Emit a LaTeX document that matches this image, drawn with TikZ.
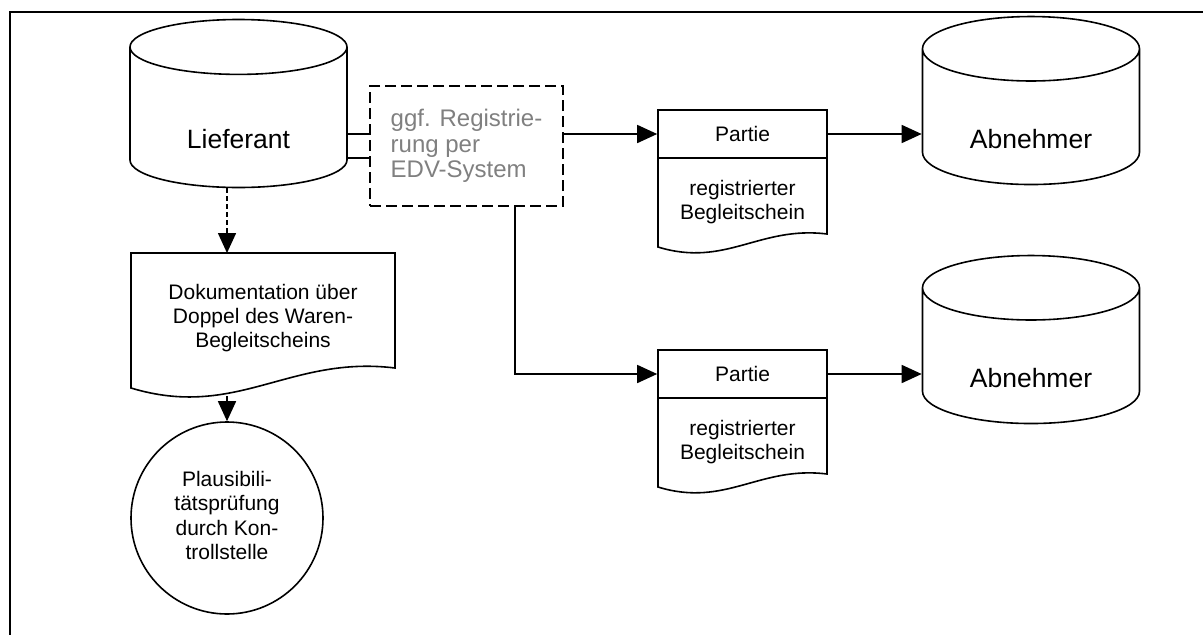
\documentclass[tikz,border=0pt]{standalone}
\usepackage{fontspec}
\setmainfont{Liberation Sans}
\usetikzlibrary{shapes.geometric,arrows.meta,calc}
\tikzset{
  tank/.style={cylinder, shape border rotate=90, aspect=0.5, draw, minimum width=217pt, minimum height=168pt, text height=61pt, text depth=6pt, font=\fontsize{26.5}{30}\selectfont},
  head/.style={draw, minimum width=169pt, minimum height=48pt, font=\fontsize{21}{24.3}\selectfont},
  paper/.style={inner sep=0pt, outer sep=0pt, align=center, font=\fontsize{21}{24.3}\selectfont},
  tip/.style={-{Triangle[length=20pt,width=18pt]}}
}
\begin{document}
\begin{tikzpicture}[x=1pt, y=-1pt, line width=1.6pt]
\useasboundingbox (0,0) rectangle (1203,635);
\draw[](1203,12) -- (10,12) -- (10,635);
% stores
\node[tank] (lief) at (238.5,121){Lieferant};
\node[tank] (abnA) at (1031,121){Abnehmer};
\node[tank] (abnB) at (1031,360){Abnehmer};
% optional registration
\node[draw, dash pattern=on 11pt off 5pt, minimum width=193pt, minimum height=120pt, align=left, text=gray, font=\fontsize{24}{25.5}\selectfont] (edv) at (466.5,146){ggf. Registrie-\\rung per\\EDV-System};
% documents
\node[head] (partA) at (742.5,134){Partie};
\node[paper, minimum width=169pt, minimum height=88pt] (regA) at (742.5,202){registrierter\\Begleitschein};
\node[head] (partB) at (742.5,374){Partie};
\node[paper, minimum width=169pt, minimum height=88pt] (regB) at (742.5,442){registrierter\\Begleitschein};
\node[paper, minimum width=264pt, minimum height=130pt] (doku) at (263,318){Dokumentation über\\Doppel des Waren-\\Begleitscheins};
\foreach \n/\r/\l/\a in {doku/15/5/20, regA/12/1/13, regB/12/1/13}
  \draw[] (\n.north west) -- (\n.north east) -- ($(\n.south east)+(0,-\r)$)
    .. controls ($(\n.south west)!0.6!(\n.south east)+(0,-\r-0.65*\a)$)
    and ($(\n.south west)!0.4!(\n.south east)+(0,\l+1.6*\a)$)
    .. ($(\n.south west)+(0,\l)$) -- cycle;
% check
\node[circle, draw, minimum size=192pt, inner sep=0pt, font=\fontsize{21}{24.3}\selectfont] (circ) at (227,518){\raisebox{15.5pt}{\begin{tabular}{@{}c@{}}Plausibili-\\tätsprüfung\\durch Kon-\\trollstelle\end{tabular}}};
\coordinate (dokuend) at (227,396);
% connections
\draw[]([yshift=-13pt]lief.east) -- ([yshift=-13pt]lief.east -| edv.west);
\draw[]([yshift=-37pt]lief.east) -- ([yshift=-37pt]lief.east -| edv.west);
\draw[tip](partA.west -| edv.east) -- (partA.west);
\draw[tip](partA.east) -- (partA.east -| abnA.west);
\draw[tip]([xshift=48.5pt]edv.south) |- (partB.west);
\draw[tip](partB.east) -- (partB.east -| abnB.west);
\draw[tip, dash pattern=on 5pt off 3pt](lief.south -| circ.north) -- (doku.north -| circ.north);
\draw[tip](dokuend) -- (circ.north);
\end{tikzpicture}
\end{document}
